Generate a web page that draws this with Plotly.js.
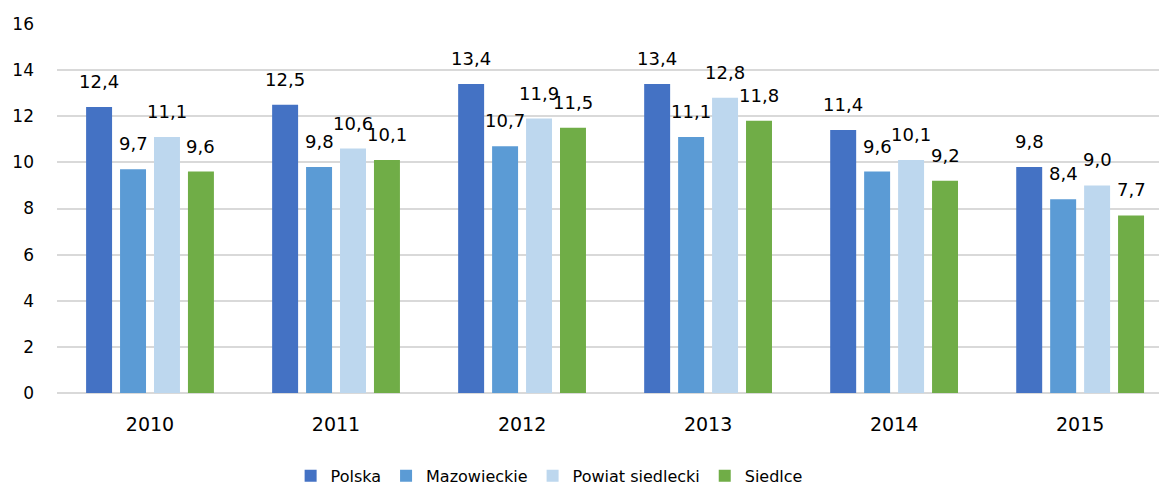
<!DOCTYPE html>
<html>
<head>
<meta charset="utf-8">
<script src="https://cdn.plot.ly/plotly-3.0.1.min.js"></script>
<style>html,body{margin:0;padding:0;background:#fff;}#chart{width:1159px;height:485px;}</style>
</head>
<body>
<div id="chart"></div>
<script>
const years = ['2010', '2011', '2012', '2013', '2014', '2015'];
const seriesNames = ['Polska', 'Mazowieckie', 'Powiat siedlecki', 'Siedlce'];
const polska = [12.4, 12.5, 13.4, 13.4, 11.4, 9.8];
const mazowieckie = [9.7, 9.8, 10.7, 11.1, 9.6, 8.4];
const powiat = [11.1, 10.6, 11.9, 12.8, 10.1, 9.0];
const siedlce = [9.6, 10.1, 11.5, 11.8, 9.2, 7.7];
const colors = ['#4472C4', '#5B9BD5', '#BDD7EE', '#70AD47'];

const allValues = [polska, mazowieckie, powiat, siedlce];
const FONT = '"DejaVu Sans", sans-serif';

const bargap = 0.27, groupgap = 0.235;
const slot = (1 - bargap) / 4;

const traces = allValues.map((vals, k) => ({
  type: 'bar',
  name: seriesNames[k],
  x: years,
  y: vals,
  marker: {color: colors[k]},
  hoverinfo: 'x+y+name'
}));

const annotations = [];
allValues.forEach((vals, k) => {
  vals.forEach((v, i) => {
    annotations.push({
      x: i + (k - 1.5) * slot,
      y: v,
      xref: 'x', yref: 'y',
      text: v.toFixed(1).replace('.', ','),
      showarrow: false,
      yanchor: 'bottom',
      xanchor: 'center',
      yshift: 13,
      font: {family: FONT, size: 18, color: '#000'}
    });
  });
});

const layout = {
  width: 1159, height: 485,
  margin: {l: 57, r: 0, t: 24, b: 92},
  paper_bgcolor: '#fff', plot_bgcolor: '#fff',
  barmode: 'group',
  bargap: bargap,
  bargroupgap: groupgap,
  font: {family: FONT, size: 17, color: '#000'},
  showlegend: true,
  legend: {
    orientation: 'h', x: 0.212, xanchor: 'left',
    yref: 'container', y: 0.019, yanchor: 'middle',
    font: {family: FONT, size: 16, color: '#000'},
    itemclick: false
  },
  xaxis: {
    type: 'category',
    range: [-0.5, 5.424],
    showgrid: false, zeroline: false,
    showline: false,
    ticks: '',
    ticklabelstandoff: 18,
    tickfont: {family: FONT, size: 19, color: '#000'},
    fixedrange: true
  },
  yaxis: {
    range: [0, 16],
    dtick: 2,
    showgrid: true, gridcolor: '#D9D9D9', gridwidth: 2,
    zeroline: true, zerolinecolor: '#D9D9D9', zerolinewidth: 2,
    showline: false,
    ticks: '',
    ticklabelstandoff: 22,
    tickfont: {family: FONT, size: 17, color: '#000'},
    fixedrange: true
  },
  annotations: annotations
};

Plotly.newPlot('chart', traces, layout, {displayModeBar: false, staticPlot: true});
</script>
</body>
</html>
